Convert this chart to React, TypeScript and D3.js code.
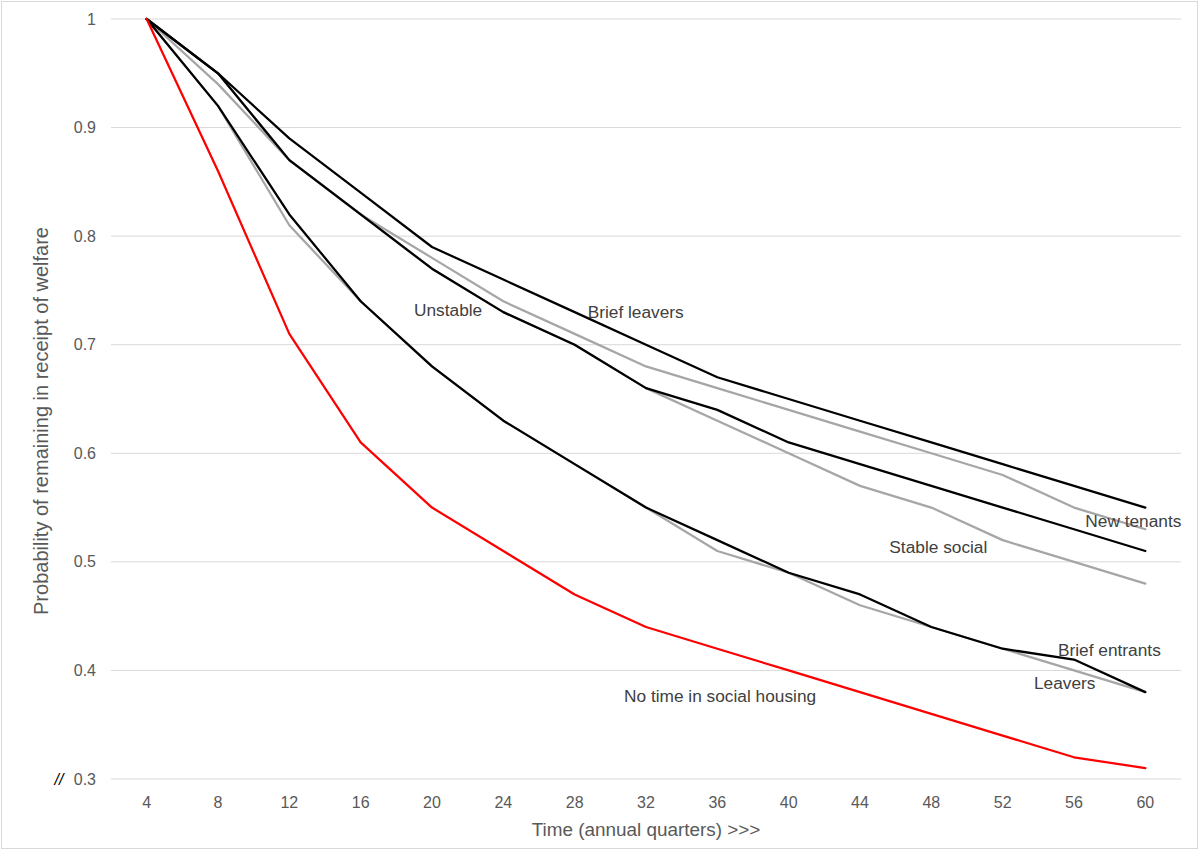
import React from "react";
import * as d3 from "d3";

const quarters = [4, 8, 12, 16, 20, 24, 28, 32, 36, 40, 44, 48, 52, 56, 60];
const yTicks = [0.3, 0.4, 0.5, 0.6, 0.7, 0.8, 0.9, 1];

const blackTop = [1, 0.95, 0.89, 0.84, 0.79, 0.76, 0.73, 0.7, 0.67, 0.65, 0.63, 0.61, 0.59, 0.57, 0.55];
const blackSecond = [1, 0.95, 0.87, 0.82, 0.77, 0.73, 0.7, 0.66, 0.64, 0.61, 0.59, 0.57, 0.55, 0.53, 0.51];
const blackLower = [1, 0.92, 0.82, 0.74, 0.68, 0.63, 0.59, 0.55, 0.52, 0.49, 0.47, 0.44, 0.42, 0.41, 0.38];
const grayTop = [1, 0.94, 0.87, 0.82, 0.78, 0.74, 0.71, 0.68, 0.66, 0.64, 0.62, 0.6, 0.58, 0.55, 0.53];
const grayMiddle = [1, 0.95, 0.87, 0.82, 0.77, 0.73, 0.7, 0.66, 0.63, 0.6, 0.57, 0.55, 0.52, 0.5, 0.48];
const grayLower = [1, 0.92, 0.81, 0.74, 0.68, 0.63, 0.59, 0.55, 0.51, 0.49, 0.46, 0.44, 0.42, 0.4, 0.38];
const noSocial = [1, 0.86, 0.71, 0.61, 0.55, 0.51, 0.47, 0.44, 0.42, 0.4, 0.38, 0.36, 0.34, 0.32, 0.31];

const labels = [
  { text: "Unstable", q: 20, v: 0.73, dx: -18, dy: 4 },
  { text: "Brief leavers", q: 28, v: 0.727, dx: 13, dy: 3 },
  { text: "New tenants", q: 60, v: 0.54, dx: -60, dy: 9 },
  { text: "Stable social", q: 48, v: 0.52, dx: -42, dy: 13 },
  { text: "Brief entrants", q: 56, v: 0.42, dx: -16, dy: 7 },
  { text: "Leavers", q: 56, v: 0.39, dx: -40, dy: 8 },
  { text: "No time in social housing", q: 32, v: 0.37, dx: -22, dy: -1 },
];

const W = 1200;
const H = 851;
const left = 111;
const right = 1181;
const top = 19;
const bottom = 779;

export default function App() {
  const x = d3.scalePoint<number>().domain(quarters).range([left, right]).padding(0.5);
  const y = d3.scaleLinear().domain([0.3, 1]).range([bottom, top]);
  const line = d3
    .line<number>()
    .x((_, i) => x(quarters[i]) as number)
    .y((d) => y(d));

  const series = [
    { data: grayTop, color: "#a6a6a6" },
    { data: grayMiddle, color: "#a6a6a6" },
    { data: grayLower, color: "#a6a6a6" },
    { data: blackTop, color: "#000000" },
    { data: blackSecond, color: "#000000" },
    { data: blackLower, color: "#000000" },
    { data: noSocial, color: "#ff0000" },
  ];

  const font = "'Liberation Sans', Arial, sans-serif";

  return (
    <svg
      width={W}
      height={H}
      style={{ position: "absolute", left: 0, top: 0, background: "#fff" }}
      fontFamily={font}
    >
      <rect x={1.5} y={1.5} width={1196} height={847} fill="#fff" stroke="#d9d9d9" strokeWidth={1} />
      {yTicks.map((t) => (
        <g key={t}>
          <line x1={left} x2={right} y1={y(t)} y2={y(t)} stroke="#d9d9d9" strokeWidth={1} />
          <text x={96} y={y(t)} dy="0.35em" textAnchor="end" fontSize={16} fill="#595959">
            {t === 1 ? "1" : d3.format(".1f")(t)}
          </text>
        </g>
      ))}
      <text x={59} y={y(0.3)} dy="0.35em" textAnchor="middle" fontSize={16} fill="#000" fontStyle="italic">
        //
      </text>
      {quarters.map((q) => (
        <text key={q} x={x(q)} y={808} textAnchor="middle" fontSize={16} fill="#595959">
          {q}
        </text>
      ))}
      {series.map((s, i) => (
        <path
          key={i}
          d={line(s.data) || ""}
          fill="none"
          stroke={s.color}
          strokeWidth={2.25}
          strokeLinejoin="round"
          strokeLinecap="round"
        />
      ))}
      {labels.map((l) => (
        <text
          key={l.text}
          x={(x(l.q) as number) + l.dx}
          y={y(l.v) + l.dy}
          fontSize={17.3}
          fill="#404040"
        >
          {l.text}
        </text>
      ))}
      <text x={646} y={836} textAnchor="middle" fontSize={18.9} fill="#595959">
        Time (annual quarters) &gt;&gt;&gt;
      </text>
      <text
        transform={`translate(48, 421) rotate(-90)`}
        textAnchor="middle"
        fontSize={20}
        fill="#595959"
      >
        Probability of remaining in receipt of welfare
      </text>
    </svg>
  );
}
